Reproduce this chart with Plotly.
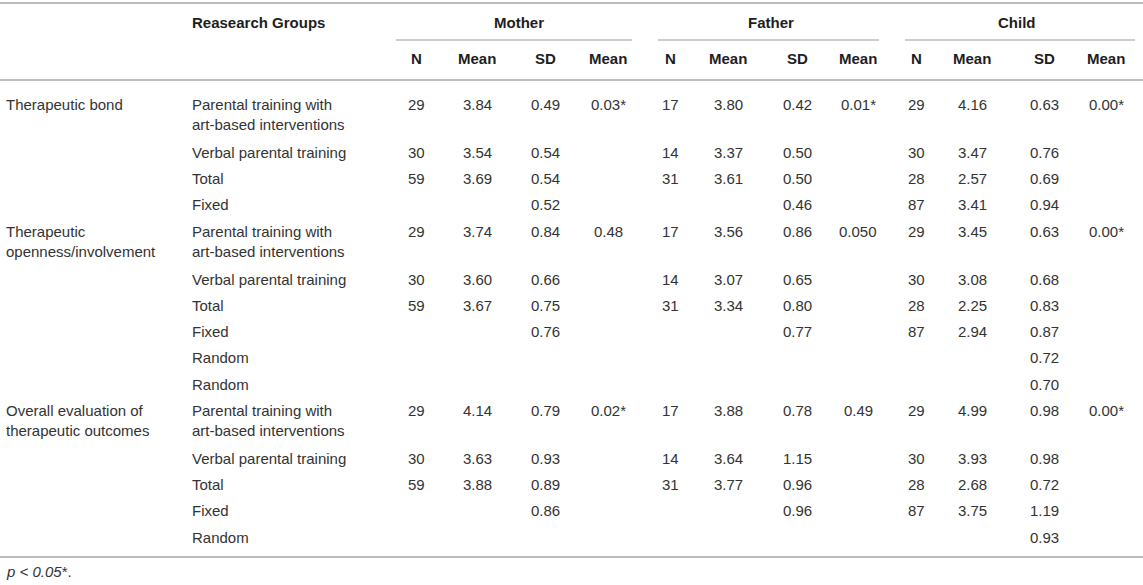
import plotly.graph_objects as go

W, H = 1143, 585

outcomes = ["Therapeutic bond", "Therapeutic<br>openness/involvement",
            "Overall evaluation of<br>therapeutic outcomes"]
outcome_rows = [0, 4, 10]

groups = ["Parental training with<br>art-based interventions", "Verbal parental training", "Total", "Fixed",
          "Parental training with<br>art-based interventions", "Verbal parental training", "Total", "Fixed",
          "Random", "Random",
          "Parental training with<br>art-based interventions", "Verbal parental training", "Total", "Fixed",
          "Random"]

mother_n = ["29", "30", "59", "", "29", "30", "59", "", "", "", "29", "30", "59", "", ""]
mother_mean = ["3.84", "3.54", "3.69", "", "3.74", "3.60", "3.67", "", "", "", "4.14", "3.63", "3.88", "", ""]
mother_sd = ["0.49", "0.54", "0.54", "0.52", "0.84", "0.66", "0.75", "0.76", "", "", "0.79", "0.93", "0.89", "0.86", ""]
mother_p = ["0.03*", "", "", "", "0.48", "", "", "", "", "", "0.02*", "", "", "", ""]

father_n = ["17", "14", "31", "", "17", "14", "31", "", "", "", "17", "14", "31", "", ""]
father_mean = ["3.80", "3.37", "3.61", "", "3.56", "3.07", "3.34", "", "", "", "3.88", "3.64", "3.77", "", ""]
father_sd = ["0.42", "0.50", "0.50", "0.46", "0.86", "0.65", "0.80", "0.77", "", "", "0.78", "1.15", "0.96", "0.96", ""]
father_p = ["0.01*", "", "", "", "0.050", "", "", "", "", "", "0.49", "", "", "", ""]

child_n = ["29", "30", "28", "87", "29", "30", "28", "87", "", "", "29", "30", "28", "87", ""]
child_mean = ["4.16", "3.47", "2.57", "3.41", "3.45", "3.08", "2.25", "2.94", "", "", "4.99", "3.93", "2.68", "3.75", ""]
child_sd = ["0.63", "0.76", "0.69", "0.94", "0.63", "0.68", "0.83", "0.87", "0.72", "0.70",
            "0.98", "0.98", "0.72", "1.19", "0.93"]
child_p = ["0.00*", "", "", "", "0.00*", "", "", "", "", "", "0.00*", "", "", "", ""]

informants = ["Mother", "Father", "Child"]
sub_headers = ["N", "Mean", "SD", "Mean"]
footnote = "<i>p < 0.05</i>*."

# layout constants (pixels)
TEXT = "#333333"
HEAD = "#1e1e1e"
RULE = "#bcbcbc"
FONT = "Liberation Sans, Arial, sans-serif"
FS = 15
col_x = [[416, 477, 545, 608], [670, 728, 797, 858], [916, 972, 1044, 1106]]
label_x = [519, 771, 1017]
group_span = [(396, 632), (658, 879), (905, 1135)]
row_top0 = 92
row_h = 26.3
line_h = 21.5

columns = [[mother_n, mother_mean, mother_sd, mother_p],
           [father_n, father_mean, father_sd, father_p],
           [child_n, child_mean, child_sd, child_p]]

# row tops from number of lines in group label
tops = []
y = row_top0
for g in groups:
    tops.append(y)
    y += row_h + line_h * g.count("<br>")
table_bottom = y + 6

fig = go.Figure()
ann = []


def put(x, y, text, anchor="center", bold=False, size=FS):
    ann.append(dict(x=x, y=y, xref="x", yref="y", text=f"<b>{text}</b>" if bold else text,
                    showarrow=False, xanchor=anchor, yanchor="top", align="left",
                    font=dict(family=FONT, size=size, color=HEAD if bold else TEXT), borderpad=0))


# header
put(191, 13, "Reasearch Groups", "left", bold=True)
for k, name in enumerate(informants):
    put(label_x[k], 13, name, bold=True)
    for j, h in enumerate(sub_headers):
        put(col_x[k][j], 49, h, bold=True)

# body
for i, t in zip(outcome_rows, outcomes):
    put(5, tops[i] + 3, t, "left")
for i, g in enumerate(groups):
    put(191, tops[i] + 3, g, "left")
    for k in range(3):
        for j in range(4):
            v = columns[k][j][i]
            if v:
                put(col_x[k][j], tops[i] + 3, v)

put(5, table_bottom + 5, footnote, "left")

shapes = [
    dict(type="line", xref="x", yref="y", x0=0, x1=W, y0=3, y1=3, line=dict(color=RULE, width=2)),
    dict(type="line", xref="x", yref="y", x0=0, x1=W, y0=80, y1=80, line=dict(color=RULE, width=2)),
    dict(type="line", xref="x", yref="y", x0=0, x1=W, y0=table_bottom, y1=table_bottom,
         line=dict(color=RULE, width=2)),
]
for a, b in group_span:
    shapes.append(dict(type="line", xref="x", yref="y", x0=a, x1=b, y0=40, y1=40,
                       line=dict(color=RULE, width=1.5)))

fig.update_layout(
    width=W, height=H,
    margin=dict(l=0, r=0, t=0, b=0),
    paper_bgcolor="white", plot_bgcolor="white",
    xaxis=dict(range=[0, W], visible=False, fixedrange=True),
    yaxis=dict(range=[H, 0], visible=False, fixedrange=True),
    annotations=ann, shapes=shapes, showlegend=False,
)

fig.write_html("out.html", config={"displayModeBar": False},
               post_script="document.body.style.margin = '0';")
